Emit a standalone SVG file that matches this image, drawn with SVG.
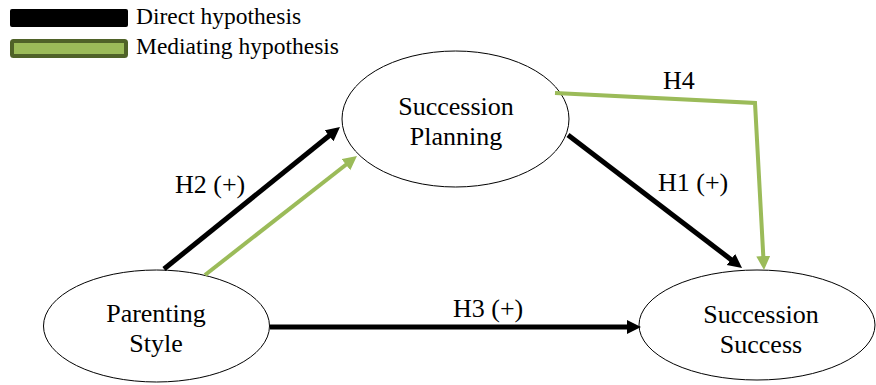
<svg xmlns="http://www.w3.org/2000/svg" width="876" height="385" viewBox="0 0 876 385">
<style>
text{font-family:"Liberation Serif","Times New Roman",serif;fill:#000}
.node{font-size:26px;text-anchor:middle}
.lbl{font-size:26px}
.leg{font-size:23.5px}
.ell{fill:#fff;stroke:#000;stroke-width:1}
.blk{stroke:#000;stroke-width:5;fill:none}
.grn{stroke:#9BBB59;stroke-width:4;fill:none}
</style>
<defs>
<marker id="ab" markerUnits="userSpaceOnUse" markerWidth="16" markerHeight="16" refX="4" refY="7" orient="auto"><path d="M0,0 L14,7 L0,14 z" fill="#000"/></marker>
<marker id="ag" markerUnits="userSpaceOnUse" markerWidth="16" markerHeight="16" refX="4" refY="7" orient="auto"><path d="M0,0 L14,7 L0,14 z" fill="#9BBB59"/></marker>
</defs>
<g id="legend">
<rect x="10" y="9" width="118" height="18" rx="2" fill="#000"/>
<rect x="12" y="41" width="114" height="15" rx="1.5" fill="#9BBB59" stroke="#4F6228" stroke-width="4"/>
<text class="leg" x="136" y="24">Direct hypothesis</text>
<text class="leg" x="136" y="54">Mediating hypothesis</text>
</g>
<g id="node-parenting">
<ellipse class="ell" cx="156.5" cy="326" rx="113" ry="56"/>
<text class="node" x="156" y="322">Parenting</text>
<text class="node" x="156" y="352">Style</text>
</g>
<g id="node-planning">
<ellipse class="ell" cx="455.5" cy="119" rx="113.5" ry="68"/>
<text class="node" x="456" y="115">Succession</text>
<text class="node" x="456" y="145">Planning</text>
</g>
<g id="node-success">
<ellipse class="ell" cx="757" cy="325" rx="118" ry="55"/>
<text class="node" x="761" y="323">Succession</text>
<text class="node" x="761" y="353">Success</text>
</g>
<g id="connectors">
<line class="blk" x1="164" y1="269" x2="332.2" y2="133.3" marker-end="url(#ab)"/>
<line class="grn" x1="205" y1="275" x2="349.1" y2="162.2" marker-end="url(#ag)"/>
<line class="blk" x1="568" y1="135" x2="734.1" y2="261.9" marker-end="url(#ab)"/>
<polyline class="grn" points="555,93 755,103 763.5,260" marker-end="url(#ag)"/>
<line class="blk" x1="270" y1="327" x2="631" y2="327" marker-end="url(#ab)"/>
<text class="lbl" x="175" y="193">H2 (+)</text>
<text class="lbl" x="658" y="191">H1 (+)</text>
<text class="lbl" x="663" y="89">H4</text>
<text class="lbl" x="453" y="317">H3 (+)</text>
</g>
</svg>
